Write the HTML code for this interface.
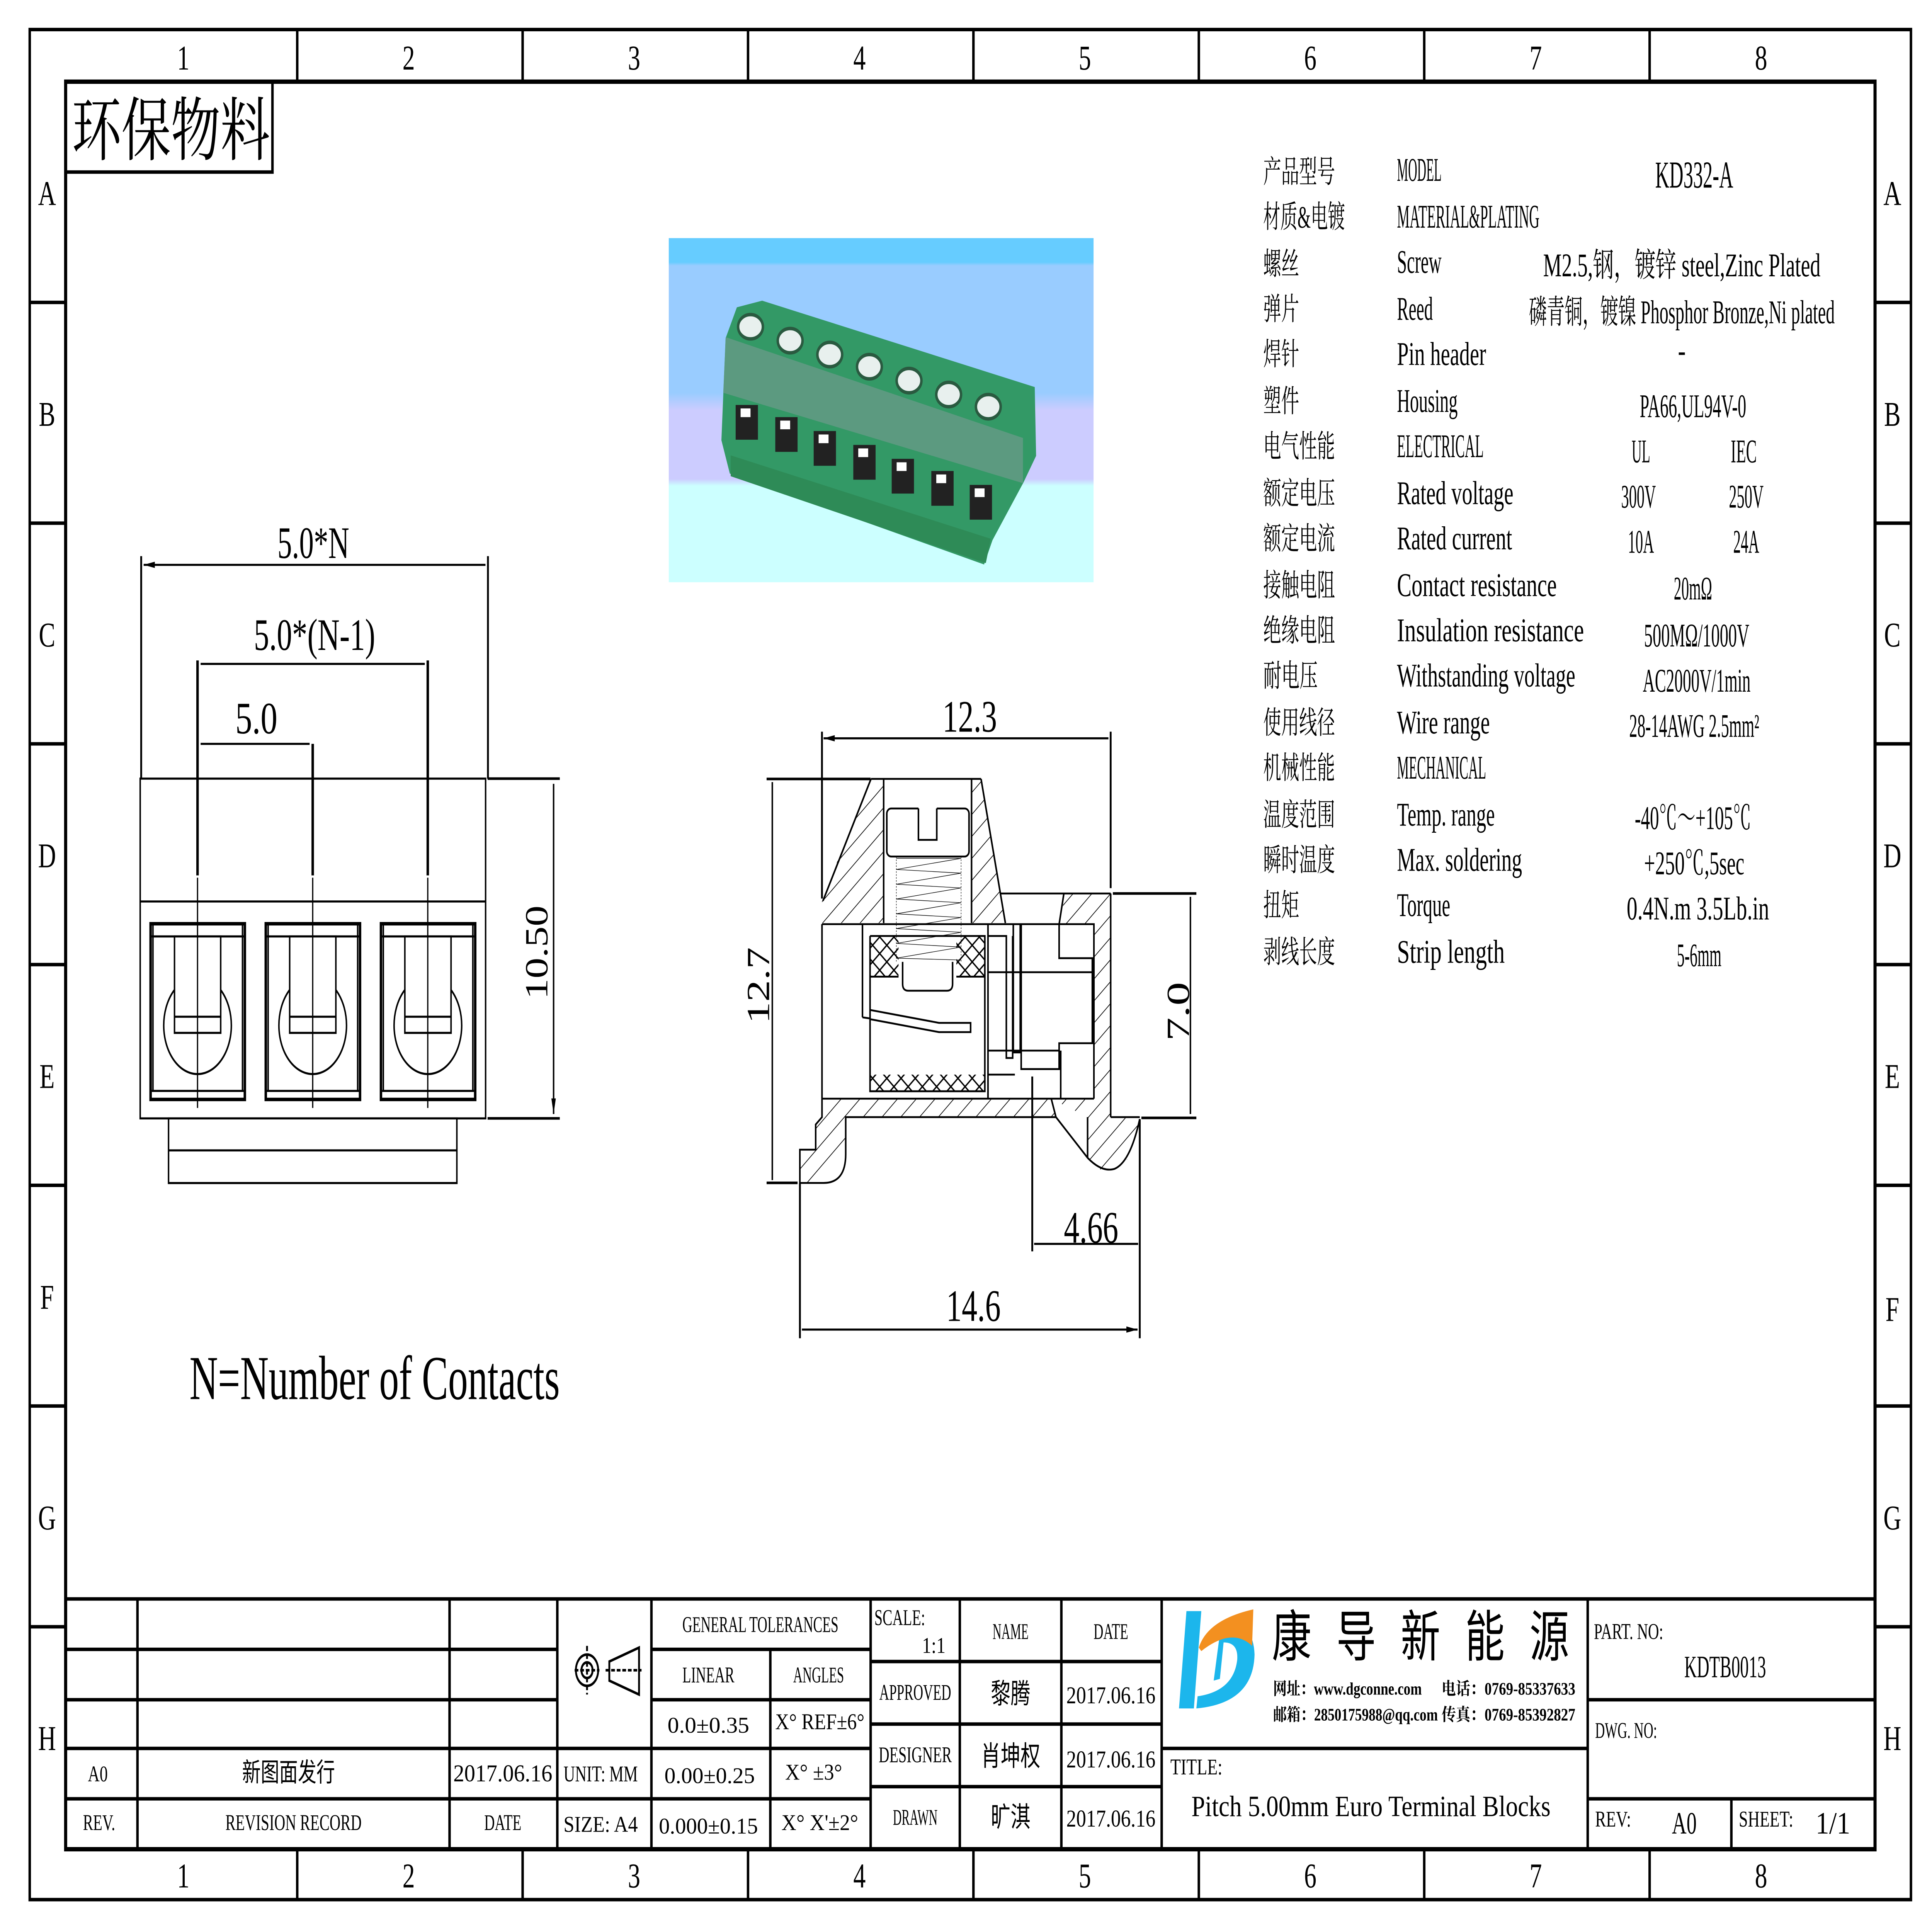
<!DOCTYPE html>
<html><head><meta charset="utf-8"><style>
html,body{margin:0;padding:0;background:#fff;width:100%;height:100%;overflow:hidden;}
svg{display:block;position:fixed;left:0;top:0;width:100vw;height:100vh;}
text{font-family:"Liberation Serif","Noto Serif CJK SC",serif;fill:#000;}
.cn{font-family:"Liberation Sans","Noto Sans CJK SC",sans-serif;}
</style></head><body>
<svg xmlns="http://www.w3.org/2000/svg" viewBox="0 0 1560 1103" preserveAspectRatio="none" overflow="hidden">
<defs>
<marker id="ar" viewBox="0 0 10 4" refX="10" refY="2" markerWidth="11" markerHeight="3.6" markerUnits="userSpaceOnUse" orient="auto-start-reverse"><path d="M0,0 L10,2 L0,4 z" fill="#000"/></marker>
<pattern id="h" patternUnits="userSpaceOnUse" width="42" height="42" patternTransform="rotate(45)"><line x1="0" y1="0" x2="0" y2="42" stroke="#000" stroke-width="4"/></pattern>
<pattern id="x" patternUnits="userSpaceOnUse" width="45" height="45"><path d="M0,0 L45,45 M45,0 L0,45" stroke="#000" stroke-width="4"/></pattern>
<linearGradient id="bg" x1="0" y1="0" x2="0" y2="1">
<stop offset="0" stop-color="#66ccff"/><stop offset="0.07" stop-color="#66ccff"/><stop offset="0.08" stop-color="#99ccff"/><stop offset="0.45" stop-color="#99ccff"/><stop offset="0.5" stop-color="#ccccff"/><stop offset="0.7" stop-color="#ccccff"/><stop offset="0.72" stop-color="#ccffff"/><stop offset="1" stop-color="#ccffff"/></linearGradient>
</defs>

<g fill="none" stroke="#000">
<rect x="24" y="17" width="1519" height="1076" stroke-width="2"/>
<rect x="53" y="47" width="1461" height="1017" stroke-width="2.5"/>
<path d="M240,17V47M422,17V47M604,17V47M786,17V47M968,17V47M1150,17V47M1332,17V47 M240,1064V1093M422,1064V1093M604,1064V1093M786,1064V1093M968,1064V1093M1150,1064V1093M1332,1064V1093" stroke-width="2"/>
<path d="M24,174H53M24,301H53M24,428H53M24,555H53M24,682H53M24,809H53M24,936H53 M1514,174H1543M1514,301H1543M1514,428H1543M1514,555H1543M1514,682H1543M1514,809H1543M1514,936H1543" stroke-width="2"/>
</g>
<g font-size="20" text-anchor="middle">
<text x="148" y="40">1</text><text x="330" y="40">2</text><text x="512" y="40">3</text><text x="694" y="40">4</text><text x="876" y="40">5</text><text x="1058" y="40">6</text><text x="1240" y="40">7</text><text x="1422" y="40">8</text>
<text x="148" y="1086">1</text><text x="330" y="1086">2</text><text x="512" y="1086">3</text><text x="694" y="1086">4</text><text x="876" y="1086">5</text><text x="1058" y="1086">6</text><text x="1240" y="1086">7</text><text x="1422" y="1086">8</text>
<text x="38" y="118">A</text><text x="38" y="245">B</text><text x="38" y="372">C</text><text x="38" y="499">D</text><text x="38" y="626">E</text><text x="38" y="753">F</text><text x="38" y="880">G</text><text x="38" y="1007">H</text>
<text x="1528" y="118">A</text><text x="1528" y="245">B</text><text x="1528" y="372">C</text><text x="1528" y="499">D</text><text x="1528" y="626">E</text><text x="1528" y="760">F</text><text x="1528" y="880">G</text><text x="1528" y="1007">H</text>
</g>

<rect x="53" y="47" width="167" height="52" fill="none" stroke="#000" stroke-width="2"/>
<text x="58" y="89" font-size="40" textLength="160" lengthAdjust="spacingAndGlyphs">环保物料</text>

<rect x="540" y="137" width="343" height="198" fill="url(#bg)"/>
<polygon points="595,176.8 615.4,173 835.5,222.7 836.6,262.3 826.4,277.6 801.4,310.8 794.6,324.8 589.3,272.5 582.5,253.3 585.9,194.6" fill="#339966"/>
<polygon points="586,194 826,252 826,278 584,226" fill="#5c9a80"/>
<polygon points="590,262 800,310 796,324 590,274" fill="#2e8b57"/>
<g fill="#e8f0ee" stroke="#2a5a40" stroke-width="2">
<ellipse cx="606" cy="188" rx="10" ry="7"/><ellipse cx="638" cy="196" rx="10" ry="7"/><ellipse cx="670" cy="204" rx="10" ry="7"/><ellipse cx="702" cy="211" rx="10" ry="7"/><ellipse cx="734" cy="219" rx="10" ry="7"/><ellipse cx="766" cy="227" rx="10" ry="7"/><ellipse cx="798" cy="234" rx="10" ry="7"/>
</g>
<g fill="#222">
<rect x="594" y="233" width="18" height="20"/><rect x="626" y="240" width="18" height="20"/><rect x="657" y="248" width="18" height="20"/><rect x="689" y="256" width="18" height="20"/><rect x="720" y="264" width="18" height="20"/><rect x="752" y="271" width="18" height="20"/><rect x="783" y="279" width="18" height="20"/>
</g>
<g fill="#fff">
<rect x="598" y="235" width="8" height="5"/><rect x="630" y="242" width="8" height="5"/><rect x="661" y="250" width="8" height="5"/><rect x="693" y="258" width="8" height="5"/><rect x="724" y="266" width="8" height="5"/><rect x="756" y="273" width="8" height="5"/><rect x="787" y="281" width="8" height="5"/>
</g>

<g fill="none" stroke="#000" stroke-width="1.2">
<rect x="113.2" y="448" width="278.9" height="195.5"/>
<path d="M113.2,518.7H392.1"/>
<rect x="136.1" y="643.5" width="232.8" height="37.2"/>
<path d="M136.1,661.9H368.9"/>
</g>
<g id="term">
<rect x="121.6" y="531.5" width="76.1" height="101.1" fill="none" stroke="#000" stroke-width="2"/>
<path d="M122.6,538.8H196.7M122.6,627.7H196.7M123.5,531.5V627.7M195.8,531.5V627.7" stroke="#000" stroke-width="1.2" fill="none"/>
<ellipse cx="159.5" cy="590" rx="27.3" ry="28" fill="none" stroke="#000" stroke-width="1.2"/>
<rect x="140.9" y="538.8" width="37.3" height="55.5" fill="#fff" stroke="#000" stroke-width="1.2"/>
<path d="M140.9,585H178.2" stroke="#000" stroke-width="1.2"/>
</g>
<use href="#term" transform="translate(93,0)"/>
<use href="#term" transform="translate(186,0)"/>
<g stroke="#000">
<path d="M159.5,380V503.7M252.5,428V503.7M345.4,380V503.7" stroke-width="2"/>
<path d="M159.5,505V637.5M252.5,505V637.5M345.4,505V637.5" stroke-width="1"/>
<path d="M114,320V448M394,320V448" stroke-width="1.5"/>
<path d="M393.7,448H452M393.7,643.5H452" stroke-width="1.5"/>
<path d="M116,325H392M162,382H343M162,428H250M447,451V641" stroke-width="1.2" marker-start="url(#ar)" marker-end="url(#ar)"/>
</g>
<g font-size="26" text-anchor="middle">
<text x="253" y="321" textLength="58" lengthAdjust="spacingAndGlyphs">5.0*N</text>
<text x="254" y="374" textLength="98" lengthAdjust="spacingAndGlyphs">5.0*(N-1)</text>
<text x="207" y="422" textLength="34" lengthAdjust="spacingAndGlyphs">5.0</text>
<text transform="translate(442,548) rotate(-90)" textLength="54" lengthAdjust="spacingAndGlyphs">10.50</text>
</g>
<text x="153" y="805" font-size="36" textLength="299" lengthAdjust="spacingAndGlyphs">N=Number of Contacts</text>

<g transform="translate(578.2,400.3) scale(0.2553,0.2127)" fill="none" stroke="#000" stroke-width="5">
<g stroke="none" fill="url(#h)">
<polygon points="490,225 530,225 530,615 335,615 335,550"/>
<polygon points="808,225 838,225 915,615 808,615"/>
<polygon points="1105,535 1248,535 1248,1140 1340,1145 1300,1255 1220,1285 1175,1250 1175,1140 1060,1090 1195,1090 1195,618 1085,618"/>
<polygon points="335,1090 1060,1090 1075,1140 410,1140 410,1240 340,1318 265,1318 265,1228 315,1228 315,1160 335,1140"/>
</g>
<g stroke="none" fill="url(#x)">
<rect x="487" y="650" width="90" height="110"/><rect x="760" y="650" width="90" height="110"/>
<rect x="487" y="1025" width="363" height="45"/>
</g>
<path d="M490,225H838M490,225L338,555M838,225L915,615M530,225V615M808,225V615"/>
<rect x="540" y="305" width="260" height="130" rx="14"/>
<rect x="640" y="300" width="58" height="88" fill="#fff" stroke="none"/>
<path d="M640,305V390H698V305"/>
<path d="M570,440L775,440L570,470L775,480L570,510L775,520L570,550L775,560L570,590L775,600L570,630L775,640L570,670L775,680L570,710L775,715" stroke-width="1.5"/>
<path d="M570,435V720M775,435V720" stroke-width="1.5" stroke-dasharray="4,4"/>
<path d="M590,720V780Q590,798 608,798H730Q748,798 748,780V720"/>
<path d="M900,535H1248M1248,535V1140M1100,535L1085,618"/>
<path d="M335,618H1195V1090M335,618V1090M335,1090H1195"/>
<path d="M463,618V870M487,650V1070H850V650H487M487,760H577M760,760H850"/>
<path d="M463,870L487,873M487,850L705,885H805V910H705L487,875"/>
<path d="M860,618V1090M860,650H918V980H938V650M940,618V965H962V618M860,748H1195M860,960H1085"/>
<path d="M965,620V1010H1085V940H1190V710H1085V620M1090,960V1090M860,1025H945"/>
<path d="M335,1090V1140L315,1160V1228H265V1318H340Q410,1318 410,1240V1140H1075M1060,1090L1075,1140L1175,1250Q1220,1290 1260,1280Q1310,1262 1340,1145M1248,1140H1340M1175,1140V1250"/>
</g>
<g stroke="#000" stroke-width="1.5" fill="none">
<path d="M663.7,421V517M896.8,421V511M619,448.2H703M619,680.6H644M898.6,514.1H966M921.6,643.2H966M833.5,619.4V720M920.3,644V770M645.9,680.6V770"/>
</g>
<g stroke="#000" stroke-width="1.2">
<path d="M665,424.8H895M623.6,450V679M961.2,516V641M835,715.7H919M647.5,765H918.5" marker-start="url(#ar)" marker-end="url(#ar)"/>
</g>
<g font-size="26" text-anchor="middle">
<text x="783" y="421" textLength="44" lengthAdjust="spacingAndGlyphs">12.3</text>
<text transform="translate(621,567) rotate(-90)" textLength="44" lengthAdjust="spacingAndGlyphs">12.7</text>
<text transform="translate(960,582) rotate(-90)" textLength="34" lengthAdjust="spacingAndGlyphs">7.0</text>
<text x="881" y="715" textLength="44" lengthAdjust="spacingAndGlyphs">4.66</text>
<text x="786" y="760" textLength="44" lengthAdjust="spacingAndGlyphs">14.6</text>
</g>

<g font-size="18" class="cn">
<text x="1020" y="105" textLength="58" lengthAdjust="spacingAndGlyphs">产品型号</text>
<text x="1020" y="131" textLength="66" lengthAdjust="spacingAndGlyphs">材质&amp;电镀</text>
<text x="1020" y="158" textLength="29" lengthAdjust="spacingAndGlyphs">螺丝</text>
<text x="1020" y="184" textLength="29" lengthAdjust="spacingAndGlyphs">弹片</text>
<text x="1020" y="210" textLength="29" lengthAdjust="spacingAndGlyphs">焊针</text>
<text x="1020" y="237" textLength="29" lengthAdjust="spacingAndGlyphs">塑件</text>
<text x="1020" y="263" textLength="58" lengthAdjust="spacingAndGlyphs">电气性能</text>
<text x="1020" y="290" textLength="58" lengthAdjust="spacingAndGlyphs">额定电压</text>
<text x="1020" y="316" textLength="58" lengthAdjust="spacingAndGlyphs">额定电流</text>
<text x="1020" y="343" textLength="58" lengthAdjust="spacingAndGlyphs">接触电阻</text>
<text x="1020" y="369" textLength="58" lengthAdjust="spacingAndGlyphs">绝缘电阻</text>
<text x="1020" y="395" textLength="44" lengthAdjust="spacingAndGlyphs">耐电压</text>
<text x="1020" y="422" textLength="58" lengthAdjust="spacingAndGlyphs">使用线径</text>
<text x="1020" y="448" textLength="58" lengthAdjust="spacingAndGlyphs">机械性能</text>
<text x="1020" y="475" textLength="58" lengthAdjust="spacingAndGlyphs">温度范围</text>
<text x="1020" y="501" textLength="58" lengthAdjust="spacingAndGlyphs">瞬时温度</text>
<text x="1020" y="527" textLength="29" lengthAdjust="spacingAndGlyphs">扭矩</text>
<text x="1020" y="554" textLength="58" lengthAdjust="spacingAndGlyphs">剥线长度</text>
</g>
<g font-size="19">
<text x="1128" y="104" textLength="36" lengthAdjust="spacingAndGlyphs">MODEL</text>
<text x="1128" y="131" textLength="115" lengthAdjust="spacingAndGlyphs">MATERIAL&amp;PLATING</text>
<text x="1128" y="157" textLength="36" lengthAdjust="spacingAndGlyphs">Screw</text>
<text x="1128" y="184" textLength="29" lengthAdjust="spacingAndGlyphs">Reed</text>
<text x="1128" y="210" textLength="72" lengthAdjust="spacingAndGlyphs">Pin header</text>
<text x="1128" y="237" textLength="49" lengthAdjust="spacingAndGlyphs">Housing</text>
<text x="1128" y="263" textLength="70" lengthAdjust="spacingAndGlyphs">ELECTRICAL</text>
<text x="1128" y="290" textLength="94" lengthAdjust="spacingAndGlyphs">Rated voltage</text>
<text x="1128" y="316" textLength="93" lengthAdjust="spacingAndGlyphs">Rated current</text>
<text x="1128" y="343" textLength="129" lengthAdjust="spacingAndGlyphs">Contact resistance</text>
<text x="1128" y="369" textLength="151" lengthAdjust="spacingAndGlyphs">Insulation resistance</text>
<text x="1128" y="395" textLength="144" lengthAdjust="spacingAndGlyphs">Withstanding voltage</text>
<text x="1128" y="422" textLength="75" lengthAdjust="spacingAndGlyphs">Wire range</text>
<text x="1128" y="448" textLength="72" lengthAdjust="spacingAndGlyphs">MECHANICAL</text>
<text x="1128" y="475" textLength="79" lengthAdjust="spacingAndGlyphs">Temp. range</text>
<text x="1128" y="501" textLength="101" lengthAdjust="spacingAndGlyphs">Max. soldering</text>
<text x="1128" y="527" textLength="43" lengthAdjust="spacingAndGlyphs">Torque</text>
<text x="1128" y="554" textLength="87" lengthAdjust="spacingAndGlyphs">Strip length</text>
</g>
<g font-size="19" class="cn" text-anchor="middle">
<text x="1368" y="108" font-size="22" textLength="63" lengthAdjust="spacingAndGlyphs">KD332-A</text>
<text x="1358" y="159" textLength="224" lengthAdjust="spacingAndGlyphs">M2.5,钢，镀锌 steel,Zinc Plated</text>
<text x="1358" y="186" textLength="247" lengthAdjust="spacingAndGlyphs">磷青铜，镀镍 Phosphor Bronze,Ni plated</text>
<text x="1358" y="208">-</text>
<text x="1367" y="240" textLength="86" lengthAdjust="spacingAndGlyphs">PA66,UL94V-0</text>
<text x="1325" y="266" textLength="15" lengthAdjust="spacingAndGlyphs">UL</text>
<text x="1408" y="266" textLength="21" lengthAdjust="spacingAndGlyphs">IEC</text>
<text x="1323" y="292" textLength="28" lengthAdjust="spacingAndGlyphs">300V</text>
<text x="1410" y="292" textLength="28" lengthAdjust="spacingAndGlyphs">250V</text>
<text x="1325" y="318" textLength="21" lengthAdjust="spacingAndGlyphs">10A</text>
<text x="1410" y="318" textLength="21" lengthAdjust="spacingAndGlyphs">24A</text>
<text x="1367" y="345" textLength="31" lengthAdjust="spacingAndGlyphs">20mΩ</text>
<text x="1370" y="372" textLength="85" lengthAdjust="spacingAndGlyphs">500MΩ/1000V</text>
<text x="1370" y="398" textLength="87" lengthAdjust="spacingAndGlyphs">AC2000V/1min</text>
<text x="1368" y="424" textLength="105" lengthAdjust="spacingAndGlyphs">28-14AWG 2.5mm²</text>
<text x="1367" y="477" textLength="94" lengthAdjust="spacingAndGlyphs">-40℃～+105℃</text>
<text x="1368" y="503" textLength="81" lengthAdjust="spacingAndGlyphs">+250℃,5sec</text>
<text x="1371" y="529" textLength="115" lengthAdjust="spacingAndGlyphs">0.4N.m  3.5Lb.in</text>
<text x="1372" y="556" textLength="36" lengthAdjust="spacingAndGlyphs">5-6mm</text>
</g>

<g fill="none" stroke="#000" stroke-width="2">
<path d="M53,920H1514"/>
<path d="M53,949H450M526,949H703M53,978H450M526,978H703M53,1006H703M53,1035H703"/>
<path d="M111,920V1064M363,920V1064M450,920V1064M526,920V1064M622,949V1064M703,920V1064"/>
<path d="M703,956H938M703,992H938M703,1028H938M775,920V1064M857,920V1064M938,920V1064"/>
<path d="M938,1006H1282M1282,920V1064M1282,978H1514M1282,1035H1514M1398,1035V1064"/>
</g>
<g fill="none" stroke="#000" stroke-width="1.5">
<circle cx="474" cy="961" r="9"/><circle cx="474" cy="961" r="4.5"/>
<path d="M474,947V975M464,961H484" stroke-dasharray="3,1.5"/>
<path d="M492,956L516,948V975L492,967Z"/>
<path d="M489,961H518" stroke-dasharray="3,1.5"/>
</g>
<g font-size="13" text-anchor="middle">
<text x="614" y="939" textLength="126" lengthAdjust="spacingAndGlyphs">GENERAL  TOLERANCES</text>
<text x="572" y="968" textLength="42" lengthAdjust="spacingAndGlyphs">LINEAR</text>
<text x="661" y="968" textLength="41" lengthAdjust="spacingAndGlyphs">ANGLES</text>
<text x="572" y="997" textLength="66" lengthAdjust="spacingAndGlyphs">0.0±0.35</text>
<text x="662" y="995" textLength="72" lengthAdjust="spacingAndGlyphs">X°  REF±6°</text>
<text x="79" y="1025" textLength="16" lengthAdjust="spacingAndGlyphs">A0</text>
<text x="233" y="1025" class="cn" font-size="15">新图面发行</text>
<text x="406" y="1025" font-size="14" textLength="80" lengthAdjust="spacingAndGlyphs">2017.06.16</text>
<text x="485" y="1025" textLength="60" lengthAdjust="spacingAndGlyphs">UNIT:  MM</text>
<text x="573" y="1026" textLength="73" lengthAdjust="spacingAndGlyphs">0.00±0.25</text>
<text x="657" y="1024" textLength="46" lengthAdjust="spacingAndGlyphs">X°  ±3°</text>
<text x="80" y="1053" textLength="26" lengthAdjust="spacingAndGlyphs">REV.</text>
<text x="237" y="1053" textLength="110" lengthAdjust="spacingAndGlyphs">REVISION RECORD</text>
<text x="406" y="1053" textLength="30" lengthAdjust="spacingAndGlyphs">DATE</text>
<text x="485" y="1054" textLength="60" lengthAdjust="spacingAndGlyphs">SIZE:  A4</text>
<text x="572" y="1055" textLength="80" lengthAdjust="spacingAndGlyphs">0.000±0.15</text>
<text x="662" y="1053" textLength="62" lengthAdjust="spacingAndGlyphs">X°  X'±2°</text>
<text x="706" y="935" text-anchor="start" textLength="41" lengthAdjust="spacingAndGlyphs">SCALE:</text>
<text x="754" y="951" textLength="19" lengthAdjust="spacingAndGlyphs">1:1</text>
<text x="816" y="943" textLength="29" lengthAdjust="spacingAndGlyphs">NAME</text>
<text x="897" y="943" textLength="28" lengthAdjust="spacingAndGlyphs">DATE</text>
<text x="739" y="978" textLength="58" lengthAdjust="spacingAndGlyphs">APPROVED</text>
<text x="739" y="1014" textLength="59" lengthAdjust="spacingAndGlyphs">DESIGNER</text>
<text x="739" y="1050" textLength="36" lengthAdjust="spacingAndGlyphs">DRAWN</text>
<text x="816" y="980" class="cn" font-size="16">黎腾</text>
<text x="816" y="1016" class="cn" font-size="16">肖坤权</text>
<text x="816" y="1051" class="cn" font-size="16">旷淇</text>
<text x="897" y="980" font-size="14" textLength="72" lengthAdjust="spacingAndGlyphs">2017.06.16</text>
<text x="897" y="1017" font-size="14" textLength="72" lengthAdjust="spacingAndGlyphs">2017.06.16</text>
<text x="897" y="1051" font-size="14" textLength="72" lengthAdjust="spacingAndGlyphs">2017.06.16</text>
<text x="945" y="1021" text-anchor="start" textLength="42" lengthAdjust="spacingAndGlyphs">TITLE:</text>
<text x="1107" y="1045" font-size="17" textLength="290" lengthAdjust="spacingAndGlyphs">Pitch 5.00mm Euro Terminal Blocks</text>
<text x="1287" y="943" text-anchor="start" textLength="56" lengthAdjust="spacingAndGlyphs">PART. NO:</text>
<text x="1393" y="965" font-size="18" textLength="66" lengthAdjust="spacingAndGlyphs">KDTB0013</text>
<text x="1288" y="1000" text-anchor="start" textLength="50" lengthAdjust="spacingAndGlyphs">DWG. NO:</text>
<text x="1288" y="1051" text-anchor="start" textLength="29" lengthAdjust="spacingAndGlyphs">REV:</text>
<text x="1360" y="1055" font-size="18" textLength="20" lengthAdjust="spacingAndGlyphs">A0</text>
<text x="1404" y="1051" text-anchor="start" textLength="44" lengthAdjust="spacingAndGlyphs">SHEET:</text>
<text x="1480" y="1055" font-size="18" textLength="28" lengthAdjust="spacingAndGlyphs">1/1</text>
</g>
<polygon points="958,927 970,927 964,983 952,983" fill="#1cb6ec"/>
<path d="M966,983 Q1012,980 1013,952 Q1012,933 990,934 L985,940 L980,967 L985,966 L988,945 Q1000,945 999,955 Q996,973 967,976 Z" fill="#1cb6ec"/>
<path d="M968,948 Q975,932 1012,926 L1011,947 Q995,936 970,950 Z" fill="#f39020"/>
<text x="1027" y="953" class="cn" font-size="32" textLength="240" lengthAdjust="spacing">康导新能源</text>
<g class="cn" font-size="10" font-weight="bold">
<text x="1028" y="975" textLength="120" lengthAdjust="spacingAndGlyphs">网址：www.dgconne.com</text>
<text x="1164" y="975" textLength="108" lengthAdjust="spacingAndGlyphs">电话：0769-85337633</text>
<text x="1028" y="990" textLength="133" lengthAdjust="spacingAndGlyphs">邮箱：2850175988@qq.com</text>
<text x="1164" y="990" textLength="108" lengthAdjust="spacingAndGlyphs">传真：0769-85392827</text>
</g>
</svg>
</body></html>
